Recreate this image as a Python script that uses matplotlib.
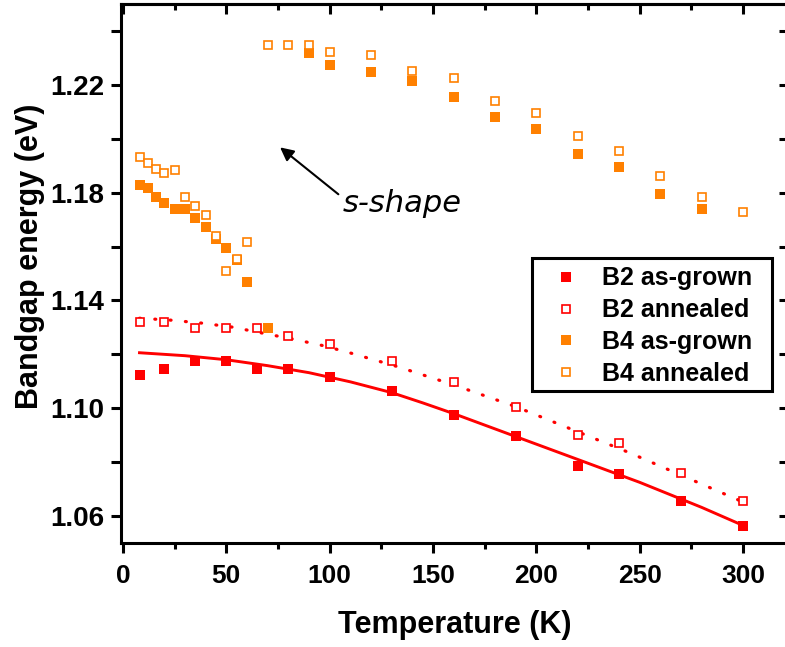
import matplotlib
matplotlib.use("Agg")
import matplotlib.pyplot as plt
from matplotlib.patches import Rectangle
from matplotlib.ticker import FixedLocator, NullFormatter, FormatStrFormatter

# ---------------- data ----------------
T_b2 = [8, 20, 35, 50, 65, 80, 100, 130, 160, 190, 220, 240, 270, 300]
E_b2_grown = [1.1124, 1.1146, 1.1174, 1.1175, 1.1145, 1.1146, 1.1116, 1.1065,
              1.0976, 1.0898, 1.0787, 1.0757, 1.0655, 1.0564]
E_b2_annealed = [1.1319, 1.1319, 1.1297, 1.1297, 1.1297, 1.1268, 1.1237, 1.1174,
                 1.1096, 1.1006, 1.0901, 1.0870, 1.0759, 1.0655]

T_fit_grown = [8, 30, 50, 70, 90, 110, 130, 145, 160, 190, 220, 250, 280, 300]
E_fit_grown = [1.1206, 1.1195, 1.1180, 1.1158, 1.1132, 1.1098, 1.1058, 1.1020,
               1.0980, 1.0895, 1.0810, 1.0725, 1.0632, 1.0565]

T_fit_annealed = [8, 23, 38, 53, 68, 82, 97, 111, 133, 161, 190, 217, 245, 272, 300]
E_fit_annealed = [1.1334, 1.1327, 1.1316, 1.1301, 1.1278, 1.1257, 1.1232, 1.1203,
                  1.1154, 1.1084, 1.1006, 1.0922, 1.0835, 1.0745, 1.0652]

T_b4_grown = [8, 12, 16, 20, 25, 30, 35, 40, 45, 50, 55, 60, 70, 90, 100, 120,
              140, 160, 180, 200, 220, 240, 260, 280]
E_b4_grown = [1.1828, 1.1818, 1.1785, 1.1760, 1.1739, 1.1739, 1.1707, 1.1674,
              1.1628, 1.1596, 1.1550, 1.1467, 1.1299, 1.2317, 1.2274, 1.2249,
              1.2214, 1.2154, 1.2082, 1.2035, 1.1942, 1.1896, 1.1796, 1.1740]

T_b4_annealed = [8, 12, 16, 20, 25, 30, 35, 40, 45, 50, 55, 60, 70, 80, 90, 100,
                 120, 140, 160, 180, 200, 220, 240, 260, 280, 300]
E_b4_annealed = [1.1931, 1.1909, 1.1887, 1.1874, 1.1885, 1.1784, 1.1749, 1.1717,
                 1.1639, 1.1509, 1.1554, 1.1618, 1.2348, 1.2348, 1.2348, 1.2323,
                 1.2311, 1.2251, 1.2224, 1.2141, 1.2094, 1.2011, 1.1955, 1.1862,
                 1.1784, 1.1727]

labels = ["B2 as-grown", "B2 annealed", "B4 as-grown", "B4 annealed"]
x_ticks = [0, 50, 100, 150, 200, 250, 300]
y_ticks = [1.06, 1.10, 1.14, 1.18, 1.22]

RED = "#FF0000"
ORANGE = "#FF8000"

plt.rcParams["font.family"] = ["Liberation Sans", "DejaVu Sans"]
plt.rcParams["font.weight"] = "bold"

fig = plt.figure(figsize=(7.85, 6.47), dpi=100)
ax = fig.add_axes([120.9 / 785, 104 / 647, (788.6 - 120.9) / 785, 539 / 647])

# fit lines
ax.plot(T_fit_grown, E_fit_grown, color=RED, lw=2.1, zorder=2)
ax.plot(T_fit_annealed, E_fit_annealed, color=RED, lw=2.3,
        linestyle=(0, (0.3, 4.5)), dash_capstyle="round", zorder=2)

fill_ms = 7.6
open_ms = 6.3
open_mew = 1.2
h1, = ax.plot(T_b2, E_b2_grown, "s", color=RED, ms=fill_ms, mew=0, zorder=3,
              label=labels[0])
h2, = ax.plot(T_b2, E_b2_annealed, "s", mfc="white", mec=RED, ms=open_ms,
              mew=open_mew, zorder=4, label=labels[1])
h3, = ax.plot(T_b4_grown, E_b4_grown, "s", color=ORANGE, ms=fill_ms, mew=0,
              zorder=5, label=labels[2])
h4, = ax.plot(T_b4_annealed, E_b4_annealed, "s", mfc="white", mec=ORANGE,
              ms=open_ms, mew=open_mew, zorder=6, label=labels[3])

ax.set_xlim(-1, 322)
ax.set_ylim(1.05, 1.25)

for s in ax.spines.values():
    s.set_linewidth(2.2)

minor_x = [25, 75, 125, 175, 225, 275, 325]
minor_y = [1.08, 1.12, 1.16, 1.20, 1.24]
ax.xaxis.set_major_locator(FixedLocator(x_ticks))
ax.xaxis.set_minor_locator(FixedLocator(minor_x))
ax.yaxis.set_major_locator(FixedLocator(y_ticks))
ax.yaxis.set_minor_locator(FixedLocator(minor_y))
ax.yaxis.set_major_formatter(FormatStrFormatter("%.2f"))
ax.yaxis.set_minor_formatter(NullFormatter())

ax.tick_params(axis="x", which="major", direction="out", length=7, width=2.2,
               labelsize=19, pad=8, top=False)
ax.tick_params(axis="x", which="minor", direction="out", length=4, width=2.2,
               top=False)
ax.tick_params(axis="y", which="major", direction="out", length=7, width=2.2,
               labelsize=20, pad=5, right=False)
ax.tick_params(axis="y", which="minor", direction="out", length=7, width=2.2,
               right=False)
sec_x = ax.secondary_xaxis("top")
sec_x.xaxis.set_major_locator(FixedLocator(x_ticks))
sec_x.xaxis.set_minor_locator(FixedLocator(minor_x))
sec_x.tick_params(which="major", direction="in", length=7, width=2.2, labeltop=False)
sec_x.tick_params(which="minor", direction="in", length=4, width=2.2)
sec_x.spines["top"].set_linewidth(2.2)
sec_y = ax.secondary_yaxis("right")
sec_y.yaxis.set_major_locator(FixedLocator(y_ticks))
sec_y.yaxis.set_minor_locator(FixedLocator(minor_y))
sec_y.tick_params(which="both", direction="in", length=7, width=2.2, labelright=False)

ax.set_xlabel("Temperature (K)", fontsize=22, fontweight="bold")
ax.set_ylabel("Bandgap energy (eV)", fontsize=22, fontweight="bold")
ax.xaxis.set_label_coords(0.5, -0.124)
ax.yaxis.set_label_coords(-0.114, 0.532)

ax.annotate("", xy=(76, 1.1968), xytext=(104.2, 1.1794),
            arrowprops=dict(arrowstyle="-|>", color="black", lw=1.5,
                            mutation_scale=20, shrinkA=0, shrinkB=0))
ax.text(106.4, 1.1728, "s-shape", fontsize=22, style="italic",
        fontweight="normal", family="DejaVu Sans", va="baseline", ha="left")

# legend frame drawn explicitly
frame = Rectangle((532 / 785, 1 - 391 / 647), 240 / 785, 133 / 647,
                  transform=fig.transFigure, facecolor="white",
                  edgecolor="black", linewidth=2.2, zorder=10)
ax.add_patch(frame)
frame.set_clip_on(False)

leg = ax.legend(handles=[h1, h2, h3, h4], loc="upper left",
                bbox_to_anchor=(542 / 785, 1 - 266.5 / 647),
                bbox_transform=fig.transFigure, borderaxespad=0,
                frameon=False,
                prop=dict(family="Liberation Sans", weight="bold", size=18),
                handlelength=1.9, handletextpad=0.5, borderpad=0,
                labelspacing=0.31, numpoints=1)
leg.set_zorder(20)

fig.savefig("out.png", dpi=100)
